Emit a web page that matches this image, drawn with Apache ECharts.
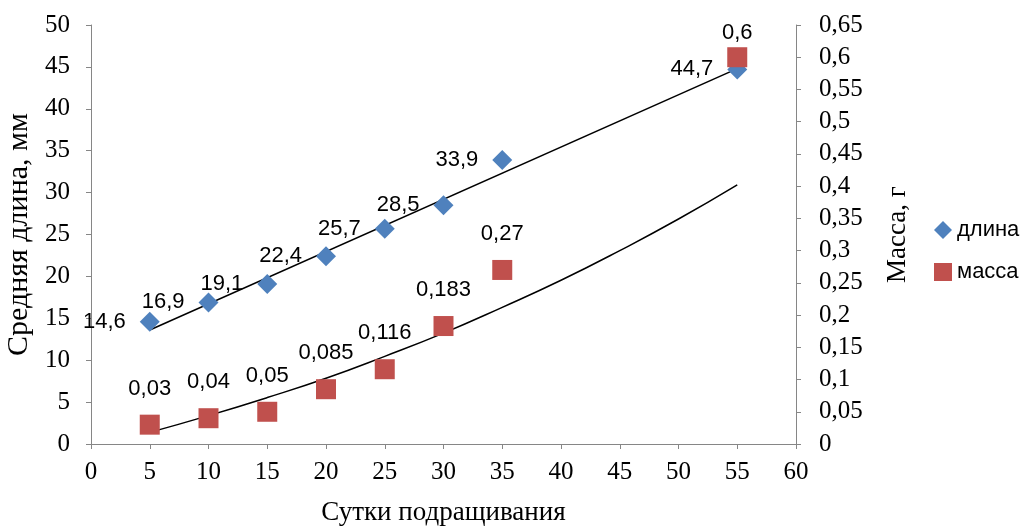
<!DOCTYPE html>
<html>
<head>
<meta charset="utf-8">
<script src="https://cdn.jsdelivr.net/npm/echarts@6/dist/echarts.min.js"></script>
<style>
  html, body { margin: 0; padding: 0; background: #fff; }
  #chart { width: 1030px; height: 528px; }
</style>
</head>
<body>
<div id="chart"></div>
<script>
// сутки подращивания
var days = [5, 10, 15, 20, 25, 30, 35, 55];
// средняя длина, мм
var lengthValues = [14.6, 16.9, 19.1, 22.4, 25.7, 28.5, 33.9, 44.7];
// масса, г
var massValues = [0.03, 0.04, 0.05, 0.085, 0.116, 0.183, 0.27, 0.6];
// линии тренда
var lengthTrendX = [5, 55];
var lengthTrendY = [13.6, 44.8];
var massTrendX = [5, 10, 15, 20, 25, 30, 35, 40, 45, 50, 55];
var massTrendY = [0.018, 0.044, 0.072, 0.102, 0.136, 0.172, 0.212, 0.254, 0.300, 0.349, 0.402];

function pairs(xs, ys) {
  return xs.map(function (x, i) { return [x, ys[i]]; });
}
function comma(v) {
  return String(+v.toFixed(3)).replace('.', ',');
}

var axisColor = '#868686';
var serif = '"Liberation Serif", "DejaVu Serif", serif';
var sans = '"Liberation Sans", "Open Sans", sans-serif';

// последняя метка массы у верхнего края - ближе к точке
var massData = pairs(days, massValues).map(function (p, i) {
  if (i === days.length - 1) {
    return { value: p, label: { distance: 3 } };
  }
  return p;
});

var chart = echarts.init(document.getElementById('chart'));
chart.setOption({
  animation: false,
  grid: { left: 91, right: 234, top: 25, bottom: 84, outerBoundsMode: 'none' },
  legend: {
    data: ['длина', 'масса'],
    orient: 'vertical',
    left: 929,
    top: 214,
    itemGap: 20,
    itemWidth: 18,
    itemHeight: 18,
    textStyle: { fontFamily: sans, fontSize: 22, color: '#000' }
  },
  xAxis: {
    type: 'value',
    min: 0,
    max: 60,
    interval: 5,
    name: 'Сутки подращивания',
    nameLocation: 'middle',
    nameGap: 55,
    nameTextStyle: { fontFamily: serif, fontSize: 27, color: '#000' },
    axisLine: { lineStyle: { color: axisColor } },
    axisTick: { length: 5, lineStyle: { color: axisColor } },
    axisLabel: { fontFamily: serif, fontSize: 25, color: '#000', margin: 16 },
    splitLine: { show: false }
  },
  yAxis: [
    {
      type: 'value',
      min: 0,
      max: 50,
      interval: 5,
      name: 'Средняя длина, мм',
      nameLocation: 'middle',
      nameGap: 54,
      nameTextStyle: { fontFamily: serif, fontSize: 30, color: '#000' },
      axisLine: { show: true, lineStyle: { color: axisColor } },
      axisTick: { show: true, length: 5, lineStyle: { color: axisColor } },
      axisLabel: { fontFamily: serif, fontSize: 25, color: '#000', margin: 21 },
      splitLine: { show: false }
    },
    {
      type: 'value',
      min: 0,
      max: 0.65,
      interval: 0.05,
      name: 'Масса, г',
      nameLocation: 'middle',
      nameGap: 88,
      nameTextStyle: { fontFamily: serif, fontSize: 27, color: '#000' },
      axisLine: { show: true, lineStyle: { color: axisColor } },
      axisTick: { show: true, length: 5, lineStyle: { color: axisColor } },
      axisLabel: { fontFamily: serif, fontSize: 25, color: '#000', margin: 23, formatter: comma },
      splitLine: { show: false }
    }
  ],
  series: [
    {
      name: 'длина-тренд',
      type: 'line',
      yAxisIndex: 0,
      data: pairs(lengthTrendX, lengthTrendY),
      showSymbol: false,
      lineStyle: { color: '#000', width: 1.5 },
      silent: true,
      z: 1
    },
    {
      name: 'масса-тренд',
      type: 'line',
      yAxisIndex: 1,
      smooth: true,
      data: pairs(massTrendX, massTrendY),
      showSymbol: false,
      lineStyle: { color: '#000', width: 1.5 },
      silent: true,
      z: 1
    },
    {
      name: 'длина',
      type: 'scatter',
      yAxisIndex: 0,
      symbol: 'diamond',
      symbolSize: 20,
      itemStyle: { color: '#4F81BD', opacity: 1 },
      data: pairs(days, lengthValues),
      label: {
        show: true,
        position: 'left',
        distance: 14,
        fontFamily: sans,
        fontSize: 22,
        color: '#000',
        formatter: function (p) { return comma(p.value[1]); }
      },
      z: 3
    },
    {
      name: 'масса',
      type: 'scatter',
      yAxisIndex: 1,
      symbol: 'rect',
      symbolSize: 20,
      itemStyle: { color: '#C0504D', opacity: 1 },
      data: massData,
      label: {
        show: true,
        position: 'top',
        distance: 15,
        fontFamily: sans,
        fontSize: 22,
        color: '#000',
        formatter: function (p) { return comma(p.value[1]); }
      },
      z: 3
    }
  ]
});
</script>
</body>
</html>
